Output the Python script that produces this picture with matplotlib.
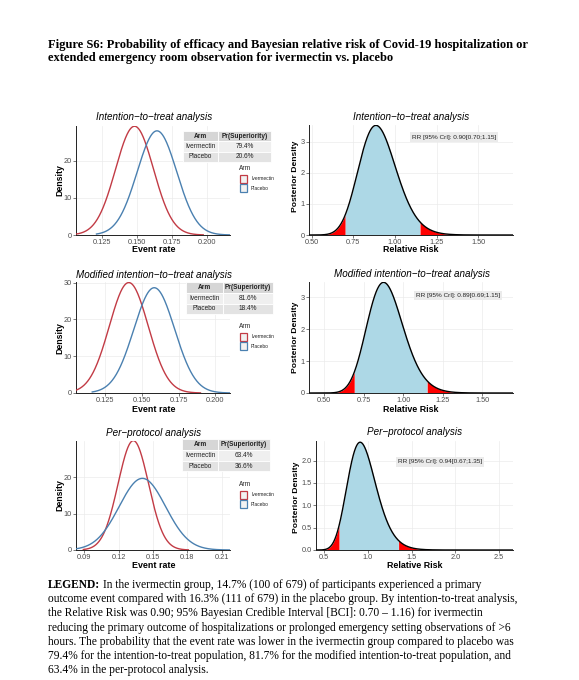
import numpy as np
import matplotlib
matplotlib.use("Agg")
import matplotlib.pyplot as plt
from matplotlib.patches import Rectangle

# ---------------- data ----------------
analyses = ["Intention\u2212to\u2212treat analysis",
            "Modified intention\u2212to\u2212treat analysis",
            "Per\u2212protocol analysis"]
arms = ["Ivermectin", "Placebo"]
# event-rate posterior (approx. normal): mean, sd, x-range drawn
iver_mean = [0.1483, 0.1410, 0.1328]
iver_sd = [0.0136, 0.0133, 0.0133]
iver_from = [0.106, 0.105, 0.0891]
iver_to = [0.1976, 0.190, 0.1809]
plac_mean = [0.1644, 0.1584, 0.1407]
plac_sd = [0.0142, 0.01395, 0.0203]
plac_from = [0.121, 0.116, 0.0827]
plac_to = [0.2168, 0.2102, 0.2173]
pr_iver = ["79.4%", "81.6%", "63.4%"]
pr_plac = ["20.6%", "18.4%", "36.6%"]
# relative risk posterior: median and 95% CrI
rr_med = [0.90, 0.89, 0.94]
rr_lo = [0.70, 0.69, 0.67]
rr_hi = [1.15, 1.15, 1.35]
# axes settings
left_xlim = [(0.1063, 0.2168), (0.1049, 0.2102), (0.0827, 0.2173)]
left_ylim = [29.4, 30.15, 29.9]
left_xticks = [[0.125, 0.150, 0.175, 0.200], [0.125, 0.150, 0.175, 0.200],
               [0.09, 0.12, 0.15, 0.18, 0.21]]
left_xticklabels = [["0.125", "0.150", "0.175", "0.200"],
                    ["0.125", "0.150", "0.175", "0.200"],
                    ["0.09", "0.12", "0.15", "0.18", "0.21"]]
left_yticks = [[0, 10, 20], [0, 10, 20, 30], [0, 10, 20]]
right_xlim = [(0.484, 1.708), (0.403, 1.694), (0.405, 2.66)]
right_ylim = [3.54, 3.48, 2.44]
right_xticks = [[0.5, 0.75, 1.0, 1.25, 1.5], [0.5, 0.75, 1.0, 1.25, 1.5],
                [0.5, 1.0, 1.5, 2.0, 2.5]]
right_xticklabels = [["0.50", "0.75", "1.00", "1.25", "1.50"],
                     ["0.50", "0.75", "1.00", "1.25", "1.50"],
                     ["0.5", "1.0", "1.5", "2.0", "2.5"]]
right_yticks = [[0, 1, 2, 3], [0, 1, 2, 3], [0, 0.5, 1.0, 1.5, 2.0]]
right_yticklabels = [["0", "1", "2", "3"], ["0", "1", "2", "3"],
                     ["0.0", "0.5", "1.0", "1.5", "2.0"]]

title_lines = ["Figure S6: Probability of efficacy and Bayesian relative risk of Covid-19 hospitalization or",
               "extended emergency room observation for ivermectin vs. placebo"]
legend_lines = [
    "In the ivermectin group, 14.7% (100 of 679) of participants experienced a primary",
    "outcome event compared with 16.3% (111 of 679) in the placebo group. By intention-to-treat analysis,",
    "the Relative Risk was 0.90; 95% Bayesian Credible Interval [BCI]: 0.70 \u2013 1.16) for ivermectin",
    "reducing the primary outcome of hospitalizations or prolonged emergency setting observations of >6",
    "hours. The probability that the event rate was lower in the ivermectin group compared to placebo was",
    "79.4% for the intention-to-treat population, 81.7% for the modified intention-to-treat population, and",
    "63.4% in the per-protocol analysis."]

# ---------------- layout ----------------
W, H = 579, 680
RED = "#C23B45"
BLUE = "#4A80B0"
SANS = "Liberation Sans"
SERIF = "Liberation Serif"

fig = plt.figure(figsize=(W / 100, H / 100), dpi=100)
fig.patch.set_facecolor("white")


def add_ax(l, t, r, b):
    return fig.add_axes([l / W, 1 - b / H, (r - l) / W, (b - t) / H])


left_boxes = [(76, 126, 230, 235), (76, 282, 230, 393), (76, 441, 230, 550)]
right_boxes = [(309, 125, 513, 235), (309, 282, 513, 393), (316, 441, 513, 550)]
title_pos_l = [(154, 117), (154, 275), (154, 433)]
title_pos_r = [(411.5, 117), (411.5, 274), (415, 432)]
xlab_y = [250, 409, 566]
xlab_x_r = [411, 411, 414.5]
ylab_l = [(60, 180), (60, 338), (60, 495)]
ylab_r = [(295.5, 176), (295.5, 337), (296, 497)]
tables = [(183, 218, 271, [131, 141, 152, 162]),
          (186, 223, 273, [282, 293, 304, 314]),
          (182, 218, 270, [439, 450, 461, 471])]
leg_pos = [(240, 169), (240, 327), (240, 485)]
ann_pos = [(454, 137), (458, 295.5), (440, 462)]


def style(ax):
    for s in ["top", "right"]:
        ax.spines[s].set_visible(False)
    for s in ["left", "bottom"]:
        ax.spines[s].set_color("#222222")
        ax.spines[s].set_linewidth(0.7)
    ax.tick_params(axis="both", length=2, width=0.5, color="#444444",
                   labelsize=5.3, labelcolor="#4d4d4d", pad=1)
    for lab in ax.get_xticklabels() + ax.get_yticklabels():
        lab.set_fontfamily(SANS)
    ax.grid(True, color="#ebebeb", linewidth=0.5)
    ax.set_axisbelow(True)


def npdf(x, m, s):
    return np.exp(-0.5 * ((x - m) / s) ** 2) / (s * np.sqrt(2 * np.pi))


for i in range(3):
    # ---- left: event-rate posteriors ----
    ax = add_ax(*left_boxes[i])
    xi = np.linspace(iver_from[i], iver_to[i], 400)
    xp = np.linspace(plac_from[i], plac_to[i], 400)
    ax.plot(xi, npdf(xi, iver_mean[i], iver_sd[i]), color=RED, lw=1.0, zorder=3)
    ax.plot(xp, npdf(xp, plac_mean[i], plac_sd[i]), color=BLUE, lw=1.0, zorder=3)
    ax.set_xlim(*left_xlim[i])
    ax.set_ylim(0, left_ylim[i])
    ax.set_xticks(left_xticks[i])
    ax.set_xticklabels(left_xticklabels[i])
    ax.set_yticks(left_yticks[i])
    style(ax)

    # ---- right: relative risk posterior ----
    ax2 = add_ax(*right_boxes[i])
    sig = (np.log(rr_hi[i]) - np.log(rr_lo[i])) / (2 * 1.96)
    mu = np.log(rr_med[i])
    xr = np.linspace(right_xlim[i][0], right_xlim[i][1], 800)
    dens = np.exp(-0.5 * ((np.log(xr) - mu) / sig) ** 2) / (xr * sig * np.sqrt(2 * np.pi))
    ax2.fill_between(xr, 0, dens, where=(xr >= rr_lo[i]) & (xr <= rr_hi[i]),
                     color="#ADD8E6", lw=0, zorder=2)
    ax2.fill_between(xr, 0, dens, where=(xr <= rr_lo[i]), color="#FF0000", lw=0, zorder=2)
    ax2.fill_between(xr, 0, dens, where=(xr >= rr_hi[i]), color="#FF0000", lw=0, zorder=2)
    ax2.plot(xr, dens, color="black", lw=1.0, zorder=3)
    ax2.set_xlim(*right_xlim[i])
    ax2.set_ylim(0, right_ylim[i])
    ax2.set_xticks(right_xticks[i])
    ax2.set_xticklabels(right_xticklabels[i])
    ax2.set_yticks(right_yticks[i])
    ax2.set_yticklabels(right_yticklabels[i])
    style(ax2)

# overlay for text and annotations
ov = fig.add_axes([0, 0, 1, 1], zorder=10)
ov.set_xlim(0, W)
ov.set_ylim(H, 0)
ov.axis("off")
ov.patch.set_alpha(0)

for k, line in enumerate(title_lines):
    ov.text(48, 45 + 13.5 * k, line, fontfamily=SERIF, fontweight="bold",
            fontsize=9.0, va="center", ha="left")

for i in range(3):
    ov.text(*title_pos_l[i], analyses[i], fontfamily=SANS, style="italic",
            fontsize=7.1, ha="center", va="center")
    ov.text(*title_pos_r[i], analyses[i], fontfamily=SANS, style="italic",
            fontsize=7.1, ha="center", va="center")
    ov.text(154, xlab_y[i], "Event rate", fontfamily=SANS, fontweight="bold",
            fontsize=6.4, ha="center", va="center")
    ov.text(xlab_x_r[i], xlab_y[i], "Relative Risk", fontfamily=SANS, fontweight="bold",
            fontsize=6.4, ha="center", va="center")
    ov.text(*ylab_l[i], "Density", fontfamily=SANS, fontweight="bold",
            fontsize=6.3, ha="center", va="center", rotation=90)
    ov.text(*ylab_r[i], "Posterior Density", fontfamily=SANS, fontweight="bold",
            fontsize=6.1, ha="center", va="center", rotation=90)

    # table
    x0, x1, x2, ys = tables[i]
    fills = ["#d6d6d6", "#efefef", "#e3e3e3"]
    rows = [("Arm", "Pr(Superiority)"), (arms[0], pr_iver[i]), (arms[1], pr_plac[i])]
    for r in range(3):
        for (a, b), txt in zip([(x0, x1), (x1, x2)], rows[r]):
            ov.add_patch(Rectangle((a, ys[r]), b - a, ys[r + 1] - ys[r],
                                   facecolor=fills[r], edgecolor="white", lw=0.6))
            ov.text((a + b) / 2, (ys[r] + ys[r + 1]) / 2, txt, fontfamily=SANS,
                    fontsize=4.7, fontweight="bold" if r == 0 else "normal",
                    ha="center", va="center", color="#222222")

    # legend
    lx, ly = leg_pos[i]
    ov.text(lx - 1, ly, "Arm", fontfamily=SANS, fontsize=4.7, ha="left", va="center",
            color="#222222")
    for j, (arm, col) in enumerate(zip(arms, [RED, BLUE])):
        ov.add_patch(Rectangle((lx, ly + 6 + 9 * j), 7, 8, facecolor="#f2f2f2",
                               edgecolor=col, lw=0.9))
        ov.text(lx + 11, ly + 10 + 9 * j, arm, fontfamily=SANS, fontsize=3.5,
                ha="left", va="center", color="#222222")

    # RR annotation
    ax_, ay_ = ann_pos[i]
    ov.text(ax_, ay_, f"RR [95% CrI]: {rr_med[i]:.2f}[{rr_lo[i]:.2f};{rr_hi[i]:.2f}]",
            fontfamily=SANS, fontsize=4.6, ha="center", va="center", color="#222222",
            bbox=dict(boxstyle="square,pad=0.35", facecolor="#ebebeb", edgecolor="none"))

# legend paragraph
renderer = fig.canvas.get_renderer()
y0 = 585
FS = 8.3
t = ov.text(48, y0, "LEGEND:", fontfamily=SERIF, fontweight="bold", fontsize=FS,
            ha="left", va="center")
bb = t.get_window_extent(renderer=renderer)
wpx = bb.width
ov.text(48 + wpx + 2.5, y0, legend_lines[0], fontfamily=SERIF, fontsize=FS,
        ha="left", va="center")
for k, line in enumerate(legend_lines[1:], start=1):
    ov.text(48, y0 + 14.2 * k, line, fontfamily=SERIF, fontsize=FS, ha="left", va="center")

fig.savefig("out.png", dpi=100)
